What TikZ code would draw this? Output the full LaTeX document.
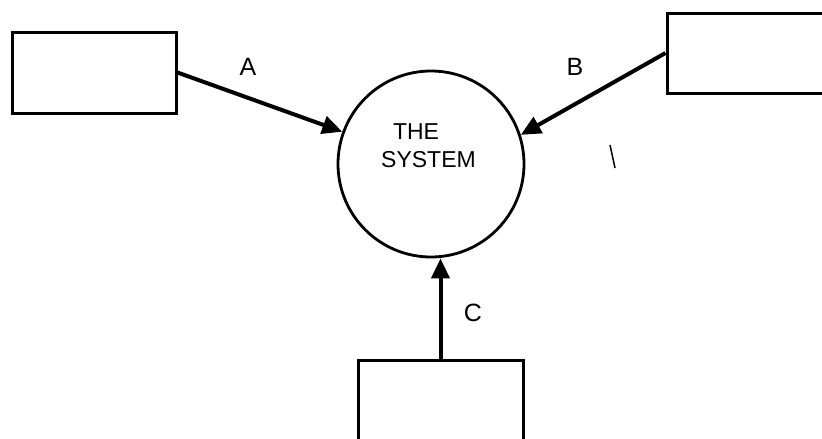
\documentclass[tikz,border=0pt]{standalone}
\usepackage{fontspec}
\setmainfont{Liberation Sans}
\usetikzlibrary{arrows.meta}
\begin{document}
\begin{tikzpicture}[x=1pt,y=-1pt,
  ext/.style={draw,line width=3pt,rectangle,inner sep=0pt},
  proc/.style={draw,line width=2.8pt,circle,inner sep=0pt,minimum size=186pt},
  flow/.style={line width=4pt,-{Triangle[length=20pt,width=18pt]}},
  lbl/.style={font=\fontsize{25}{25}\selectfont,inner sep=0pt},
  systxt/.style={font=\fontsize{23}{23}\selectfont,inner sep=0pt}]
\useasboundingbox (0,0) rectangle (822,439);
\clip (0,0) rectangle (822,439);
\node[ext,minimum width=164pt,minimum height=81pt] (boxA) at (94,72.5) {};
\node[ext,minimum width=180pt,minimum height=80pt] (boxB) at (757,53) {};
\node[ext,minimum width=165pt,minimum height=110pt] (boxC) at (440.5,415) {};
\node[proc] (sys) at (431,164) {};
\node[systxt] (the) at (416,131.5) {THE};
\node[systxt] (system) at (428.5,160) {SYSTEM};
\draw[flow] (boxA.east) -- (sys.160);
\draw[flow] (boxB.west) -- (sys.18);
\draw[flow] (boxC.north) -- (boxC.north |- sys.south);
\node[lbl] (la) at (248,67) {A};
\node[lbl] (lb) at (575,67) {B};
\node[lbl] (lc) at (473,313) {C};
\draw[line width=1.5pt] (610,145) -- (615,168);
\end{tikzpicture}
\end{document}
